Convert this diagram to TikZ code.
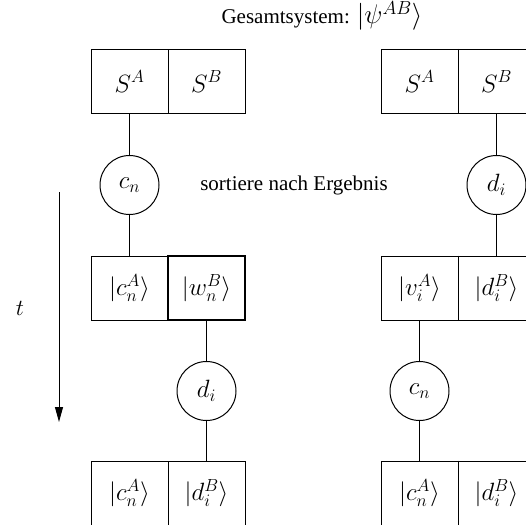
\RequirePackage{fix-cm}
\documentclass[tikz,border=0pt]{standalone}
\usepackage{fontspec}
\setmainfont{Liberation Serif}
\usetikzlibrary{arrows.meta}
\newcommand{\txtfnt}{\fontsize{21}{25}\selectfont}
\newcommand{\mfnt}{\fontsize{25}{30}\selectfont}
\newcommand{\tmfnt}{\fontsize{27}{32}\selectfont}
\tikzset{
  cell/.style={draw, line width=1pt, rectangle, inner sep=0pt, minimum width=77pt, minimum height=64pt, font=\mfnt},
  thickcell/.style={cell, line width=1.6pt},
  meas/.style={draw, line width=1pt, circle, inner sep=0pt, minimum size=59pt, font=\mfnt},
  conn/.style={line width=1pt},
  lbl/.style={font=\txtfnt, inner sep=0pt}
}
\begin{document}
\begin{tikzpicture}[x=1pt,y=-1pt]
\useasboundingbox (0,0) rectangle (526,524);
% title
\node[lbl, anchor=base] (title) at (322,24) {Gesamtsystem: {\tmfnt$|\psi^{AB}\rangle$}};
% left column
\node[cell] (l1a) at (129.5,81.5) {$S^A$};
\node[cell] (l1b) at (206.5,81.5) {$S^B$};
\node[meas] (lc1) at (129.5,185) {$c_n$};
\node[cell] (l2a) at (129.5,288) {$|c_n^A\rangle$};
\node[thickcell] (l2b) at (206.5,288) {$|w_n^B\rangle$};
\node[meas] (lc2) at (206.5,391) {$d_i$};
\node[cell] (l3a) at (129.5,493) {$|c_n^A\rangle$};
\node[cell] (l3b) at (206.5,493) {$|d_i^B\rangle$};
% right column
\node[cell] (r1a) at (419.5,81.5) {$S^A$};
\node[cell] (r1b) at (496.5,81.5) {$S^B$};
\node[meas] (rc1) at (496.5,185) {$d_i$};
\node[cell] (r2a) at (419.5,288) {$|v_i^A\rangle$};
\node[cell] (r2b) at (496.5,288) {$|d_i^B\rangle$};
\node[meas] (rc2) at (419.5,391) {$c_n$};
\node[cell] (r3a) at (419.5,493) {$|c_n^A\rangle$};
\node[cell] (r3b) at (496.5,493) {$|d_i^B\rangle$};
% thicker dividers on right column
\draw[line width=1.6pt] (r1a.north east) -- (r1a.south east);
\draw[line width=1.6pt] (r2a.north east) -- (r2a.south east);
\draw[line width=1.6pt] (r3a.north east) -- (r3a.south east);
% connectors
\draw[conn] (l1a) -- (lc1);
\draw[conn] (lc1) -- (l2a);
\draw[conn] (l2b) -- (lc2);
\draw[conn] (lc2) -- (l3b);
\draw[conn] (r1b) -- (rc1);
\draw[conn] (rc1) -- (r2b);
\draw[conn] (r2a) -- (rc2);
\draw[conn] (rc2) -- (r3a);
% middle label
\node[lbl] (sort) at (294,185) {sortiere nach Ergebnis};
% time arrow
\coordinate (ts) at (59,192);
\coordinate (te) at (59,422);
\draw[conn, -{Triangle[length=15pt,width=8pt]}] (ts) -- (te);
\node[lbl, font=\fontsize{23}{27}\selectfont] (t) at (20,308) {$t$};
\end{tikzpicture}
\end{document}
